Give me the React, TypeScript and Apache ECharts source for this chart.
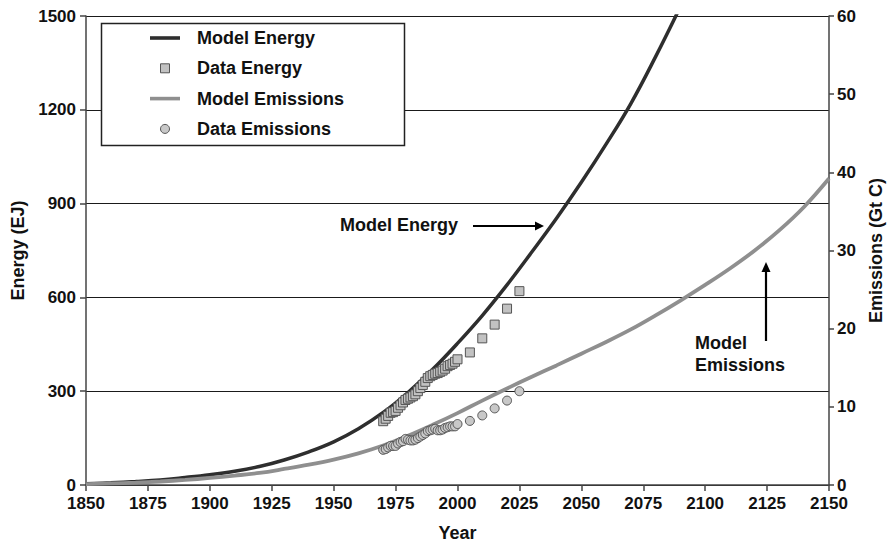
import React, { useEffect, useRef } from "react";
import * as echarts from "echarts";

const modelEnergyYears = [1850, 1860, 1870, 1880, 1890, 1900, 1910, 1920, 1930, 1940, 1950, 1960, 1970, 1980, 1990, 2000, 2010, 2020, 2030, 2040, 2050, 2060, 2070, 2080, 2090];
const modelEnergyValues = [4, 7, 11, 16, 24, 33, 44, 59, 80, 106, 138, 180, 232, 296, 370, 453, 542, 640, 745, 853, 968, 1090, 1220, 1370, 1530];

const modelEmissionsYears = [1850, 1860, 1870, 1880, 1890, 1900, 1910, 1920, 1930, 1940, 1950, 1960, 1970, 1980, 1990, 2000, 2010, 2020, 2030, 2040, 2050, 2060, 2070, 2080, 2090, 2100, 2110, 2120, 2130, 2140, 2150];
const modelEmissionsValues = [0.1, 0.2, 0.3, 0.45, 0.65, 0.9, 1.2, 1.55, 2.05, 2.6, 3.25, 4.05, 5.05, 6.3, 7.7, 9.2, 10.8, 12.35, 13.85, 15.3, 16.8, 18.3, 19.9, 21.7, 23.6, 25.6, 27.7, 30.0, 32.6, 35.6, 39.2];

const dataYears = [1970, 1971, 1972, 1973, 1974, 1975, 1976, 1977, 1978, 1979, 1980, 1981, 1982, 1983, 1984, 1985, 1986, 1987, 1988, 1989, 1990, 1991, 1992, 1993, 1994, 1995, 1996, 1997, 1998, 1999, 2000, 2005, 2010, 2015, 2020, 2025];
const dataEnergyValues = [204, 212, 221, 231, 233, 237, 247, 255, 264, 272, 276, 280, 284, 290, 300, 310, 320, 330, 342, 348, 352, 356, 358, 362, 366, 372, 380, 384, 388, 394, 402, 424, 469, 513, 564, 620];
const dataEmissionsValues = [4.5, 4.6, 4.8, 5.0, 5.0, 5.0, 5.3, 5.5, 5.6, 5.9, 5.8, 5.7, 5.7, 5.8, 6.0, 6.2, 6.4, 6.6, 6.9, 7.0, 7.1, 7.2, 7.0, 7.0, 7.1, 7.3, 7.4, 7.5, 7.5, 7.5, 7.8, 8.2, 8.9, 9.8, 10.8, 12.0];

const energyTicks = [0, 300, 600, 900, 1200, 1500];
const emissionsTicks = [0, 10, 20, 30, 40, 50, 60];
const yearTicks = [1850, 1875, 1900, 1925, 1950, 1975, 2000, 2025, 2050, 2075, 2100, 2125, 2150];

const FONT = "'Liberation Sans', Arial, Helvetica, sans-serif";
const DARK = "#2e2e2e";
const GRAY = "#8f8f8f";

export default function App() {
  const ref = useRef<HTMLDivElement>(null);
  useEffect(() => {
    if (!ref.current) return;
    const chart = echarts.init(ref.current, undefined, { renderer: "svg" });
    const labelStyle = { fontFamily: FONT, fontWeight: "bold" as const, fontSize: 17, color: "#111" };
    const nameStyle = { fontFamily: FONT, fontWeight: "bold" as const, fontSize: 18, color: "#111" };
    const axisLine = { show: true, lineStyle: { color: "#444", width: 1.5 } };
    chart.setOption({
      animation: false,
      backgroundColor: "#fff",
      grid: { left: 86, right: 58, top: 16, bottom: 60, containLabel: false },
      xAxis: {
        type: "value",
        min: yearTicks[0],
        max: yearTicks[yearTicks.length - 1],
        interval: 25,
        name: "Year",
        nameLocation: "middle",
        nameGap: 39,
        nameTextStyle: nameStyle,
        axisLine,
        axisTick: { show: true, length: 6, lineStyle: { color: "#444", width: 1.5 } },
        axisLabel: { ...labelStyle, margin: 10, formatter: (v: number) => String(v) },
        splitLine: { show: false },
      },
      yAxis: [
        {
          type: "value",
          position: "left",
          min: energyTicks[0],
          max: energyTicks[energyTicks.length - 1],
          interval: 300,
          name: "Energy (EJ)",
          nameLocation: "middle",
          nameRotate: 90,
          nameGap: 58,
          nameTextStyle: nameStyle,
          axisLine,
          axisTick: { show: true, length: 6, lineStyle: { color: "#444", width: 1.5 } },
          axisLabel: { ...labelStyle, margin: 10, formatter: (v: number) => String(v) },
          splitLine: { show: true, lineStyle: { color: "#1a1a1a", width: 1.2 } },
        },
        {
          type: "value",
          position: "right",
          min: emissionsTicks[0],
          max: emissionsTicks[emissionsTicks.length - 1],
          interval: 10,
          name: "Emissions (Gt C)",
          nameLocation: "middle",
          nameRotate: 90,
          nameGap: 38,
          nameTextStyle: nameStyle,
          axisLine,
          axisTick: { show: true, length: 5, lineStyle: { color: "#444", width: 1.5 } },
          axisLabel: { ...labelStyle, margin: 8, formatter: (v: number) => String(v) },
          splitLine: { show: false },
        },
      ],
      legend: {
        orient: "vertical",
        left: 150,
        top: 29,
        padding: 0,
        itemWidth: 30,
        itemHeight: 9,
        itemGap: 12.3,
        symbolKeepAspect: true,
        selectedMode: false,
        textStyle: { ...nameStyle, padding: [0, 0, 0, 12] },
        data: [
          { name: "Model Energy", icon: "path://M0,0h30v3.6h-30z", itemStyle: { color: DARK, borderWidth: 0 } },
          { name: "Data Energy", icon: "path://M0,0h10v10h-10z", itemStyle: { color: "#c2c2c2", borderColor: "#555", borderWidth: 1 } },
          { name: "Model Emissions", icon: "path://M0,0h30v3.6h-30z", itemStyle: { color: GRAY, borderWidth: 0 } },
          { name: "Data Emissions", icon: "circle", itemStyle: { color: "#c8c8c8", borderColor: "#555", borderWidth: 1 } },
        ],
      },
      graphic: [
        {
          type: "rect",
          z: 3,
          shape: { x: 101.5, y: 23.5, width: 303, height: 122 },
          style: { fill: "#fff", stroke: "#222", lineWidth: 1.5 },
        },
        {
          type: "text",
          z: 5,
          x: 340,
          y: 225,
          style: { text: "Model Energy", font: `bold 18px ${FONT}`, fill: "#111", textVerticalAlign: "middle" },
        },
        {
          type: "line",
          z: 5,
          shape: { x1: 473, y1: 226, x2: 536, y2: 226 },
          style: { stroke: "#000", lineWidth: 2.2 },
        },
        {
          type: "polygon",
          z: 5,
          shape: { points: [[544, 226], [535, 221.5], [535, 230.5]] },
          style: { fill: "#000" },
        },
        {
          type: "text",
          z: 5,
          x: 695,
          y: 332,
          style: { text: "Model\nEmissions", font: `bold 18px ${FONT}`, fill: "#111", lineHeight: 22, textVerticalAlign: "top" },
        },
        {
          type: "line",
          z: 5,
          shape: { x1: 766, y1: 341, x2: 766, y2: 271 },
          style: { stroke: "#000", lineWidth: 2.2 },
        },
        {
          type: "polygon",
          z: 5,
          shape: { points: [[766, 262], [761.5, 272], [770.5, 272]] },
          style: { fill: "#000" },
        },
      ],
      series: [
        {
          name: "Model Energy",
          type: "line",
          yAxisIndex: 0,
          smooth: 0.4,
          symbol: "none",
          z: 2,
          lineStyle: { color: DARK, width: 3.5 },
          itemStyle: { color: DARK },
          data: modelEnergyYears.map((y, i) => [y, modelEnergyValues[i]]),
        },
        {
          name: "Data Energy",
          type: "scatter",
          yAxisIndex: 0,
          symbol: "rect",
          symbolSize: 9,
          z: 3,
          itemStyle: { color: "#c2c2c2", borderColor: "#555", borderWidth: 1, opacity: 1 },
          data: dataYears.map((y, i) => [y, dataEnergyValues[i]]),
        },
        {
          name: "Model Emissions",
          type: "line",
          yAxisIndex: 1,
          smooth: 0.4,
          symbol: "none",
          z: 2,
          lineStyle: { color: GRAY, width: 3.8 },
          itemStyle: { color: GRAY },
          data: modelEmissionsYears.map((y, i) => [y, modelEmissionsValues[i]]),
        },
        {
          name: "Data Emissions",
          type: "scatter",
          yAxisIndex: 1,
          symbol: "circle",
          symbolSize: 9,
          z: 3,
          itemStyle: { color: "#c8c8c8", borderColor: "#555", borderWidth: 1, opacity: 1 },
          data: dataYears.map((y, i) => [y, dataEmissionsValues[i]]),
        },
      ],
    });
    return () => chart.dispose();
  }, []);
  return (
    <div style={{ position: "fixed", left: 0, top: 0, width: 893, height: 547, overflow: "hidden" }}>
      <div ref={ref} style={{ width: 893, height: 547 }} />
    </div>
  );
}
